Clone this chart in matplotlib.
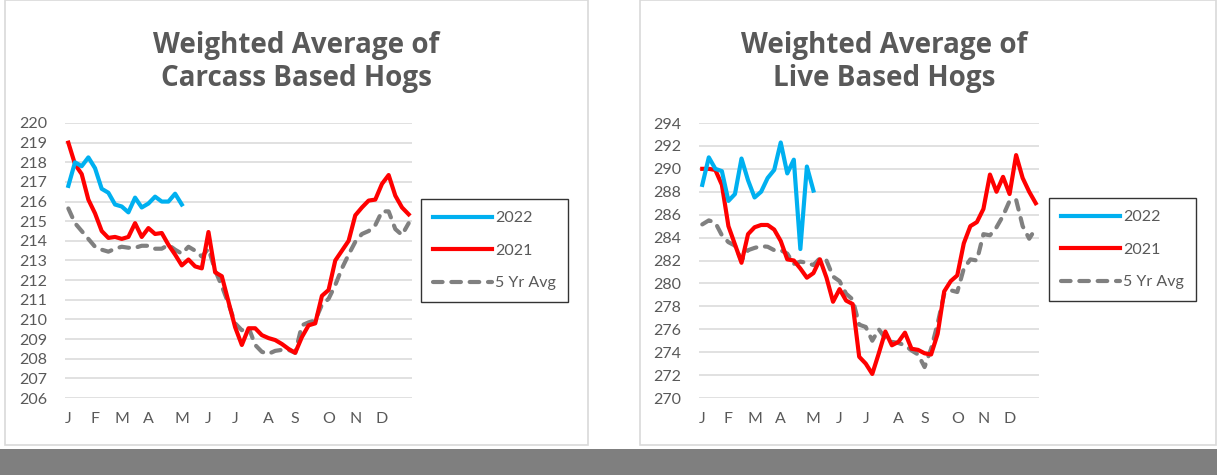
#!/usr/bin/env python3
# -*- coding: utf-8 -*-
"""
Weighted average hog prices: carcass vs live, 2022 / 2021 / 5 yr avg (weekly)
"""

import matplotlib
matplotlib.use('Agg')
import matplotlib.pyplot as plt
from matplotlib.patches import Rectangle
import numpy as np

matplotlib.rcParams['font.family'] = ['Lato', 'DejaVu Sans']

# ---- data (weekly, 52 weeks) ----
month_ticks = [0, 4, 8, 12, 17, 21, 25, 30, 34, 39, 43, 47]
month_labels = ['J', 'F', 'M', 'A', 'M', 'J', 'J', 'A', 'S', 'O', 'N', 'D']

carcass_2022 = [216.8, 218.0, 217.8, 218.25, 217.7, 216.65, 216.45, 215.85, 215.75, 215.45,
                216.2, 215.7, 215.9, 216.25, 216.0, 216.0, 216.4, 215.85]
carcass_2021 = [219.0, 217.9, 217.4, 216.1, 215.4, 214.5, 214.15, 214.2, 214.1, 214.2,
                214.9, 214.2, 214.65, 214.35, 214.4, 213.8, 213.3, 212.75, 213.05, 212.7,
                212.6, 214.45, 212.4, 212.2, 210.9, 209.6, 208.7, 209.55, 209.55, 209.2,
                209.05, 208.95, 208.75, 208.5, 208.3, 209.1, 209.7, 209.8, 211.2, 211.5,
                213.0, 213.5, 214.0, 215.3, 215.7, 216.05, 216.1, 216.9, 217.35, 216.3,
                215.7, 215.35]
carcass_5yr = [215.65, 214.9, 214.5, 214.1, 213.7, 213.55, 213.45, 213.6, 213.7, 213.65,
               213.65, 213.75, 213.75, 213.6, 213.6, 213.8, 213.55, 213.35, 213.7, 213.5,
               213.2, 213.6, 212.5, 211.7, 210.8, 209.8, 209.45, 209.6, 208.7, 208.35,
               208.25, 208.4, 208.45, 208.45, 208.3, 209.7, 209.85, 209.95, 210.75, 211.05,
               211.75, 212.6, 213.3, 213.95, 214.35, 214.5, 214.8, 215.5, 215.5, 214.6,
               214.3, 214.9]

live_2022 = [288.6, 291.0, 290.0, 289.8, 287.2, 287.8, 290.9, 289.0, 287.5, 288.0,
             289.2, 289.9, 292.3, 289.6, 290.8, 283.0, 290.2, 288.1]
live_2021 = [290.0, 290.0, 289.9, 288.6, 285.0, 283.4, 281.8, 284.3, 284.9, 285.1,
             285.1, 284.7, 283.7, 282.1, 282.0, 281.3, 280.5, 280.9, 282.1, 280.5,
             278.4, 279.5, 278.5, 278.2, 273.6, 273.0, 272.1, 273.9, 275.8, 274.6,
             274.9, 275.7, 274.3, 274.2, 273.9, 273.8, 275.6, 279.3, 280.2, 280.7,
             283.5, 285.0, 285.35, 286.5, 289.5, 288.0, 289.3, 287.8, 291.2, 289.2,
             288.0, 287.0]
live_5yr = [285.15, 285.5, 285.3, 284.2, 283.6, 283.3, 282.0, 282.9, 283.1, 283.25,
            283.2, 282.9, 282.9, 282.6, 281.7, 281.9, 281.8, 281.6, 282.2, 282.0,
            280.6, 280.2, 279.1, 278.6, 276.4, 276.2, 275.0, 276.0, 275.2, 274.9,
            274.8, 274.6, 274.15, 273.8, 272.7, 274.3, 276.5, 279.1, 279.4, 279.25,
            281.3, 282.1, 282.0, 284.3, 284.2, 284.9, 285.9, 287.2, 287.3, 285.0,
            283.9, 284.8]

BLUE = '#00B0F0'
RED = '#FF0000'
GRAY = '#808080'
TXT = '#595959'
GRID = '#D9D9D9'

W, H = 1217, 475


def draw_panel(fig, rect, s2022, s2021, s5yr, ylim, ystep, legend_xy):
    ax = fig.add_axes(rect)
    x22 = np.arange(len(s2022))
    x21 = np.arange(len(s2021))
    x5 = np.arange(len(s5yr))
    ax.plot(x22, s2022, color=BLUE, lw=3.0, solid_joinstyle='round', label='2022', zorder=4)
    ax.plot(x21, s2021, color=RED, lw=3.0, solid_joinstyle='round', label='2021', zorder=3)
    ax.plot(x5, s5yr, color=GRAY, lw=3.0, dashes=(2.3, 2.1), dash_capstyle='round',
            label='5 Yr Avg', zorder=2)

    ax.set_xlim(-0.5, 51.5)
    ax.set_ylim(*ylim)
    ax.set_yticks(np.arange(ylim[0], ylim[1] + ystep / 2, ystep))
    ax.set_xticks(month_ticks)
    ax.set_xticklabels(month_labels)
    ax.grid(axis='y', color=GRID, lw=1.1)
    ax.set_axisbelow(True)
    for sp in ax.spines.values():
        sp.set_visible(False)
    ax.tick_params(length=0, colors=TXT, labelsize=11.5)
    ax.tick_params(axis='y', pad=13)
    ax.tick_params(axis='x', pad=10)

    leg = fig.legend(handles=ax.get_lines(), loc='upper left',
                     bbox_to_anchor=legend_xy, frameon=True, fancybox=False,
                     edgecolor='black', fontsize=11.5, handlelength=3.7,
                     handletextpad=0.2, labelspacing=1.15, borderpad=0.75,
                     borderaxespad=0)
    leg.get_frame().set_linewidth(1.0)
    for t in leg.get_texts():
        t.set_color(TXT)
    return ax


def main():
    fig = plt.figure(figsize=(W / 100, H / 100), dpi=100)

    # panel borders and bottom band
    fig.patches.append(Rectangle((5 / W, 1 - 445 / H), 583 / W, 445 / H, transform=fig.transFigure,
                                 fill=False, edgecolor=GRID, lw=1.2))
    fig.patches.append(Rectangle((640 / W, 1 - 445 / H), 576 / W, 445 / H, transform=fig.transFigure,
                                 fill=False, edgecolor=GRID, lw=1.2))
    fig.patches.append(Rectangle((0, 0), 1, 26 / H, transform=fig.transFigure,
                                 facecolor='#7F7F7F', edgecolor='none'))

    bottom = 1 - 398 / H
    height = (398 - 123) / H
    draw_panel(fig, [65 / W, bottom, 347 / W, height],
               carcass_2022, carcass_2021, carcass_5yr, (206, 220), 1,
               (421 / W, 1 - 199 / H))
    draw_panel(fig, [699 / W, bottom, 340 / W, height],
               live_2022, live_2021, live_5yr, (270, 294), 2,
               (1049 / W, 1 - 198 / H))

    title_kw = dict(ha='center', va='center', fontsize=20, fontweight='bold',
                    color=TXT, linespacing=1.15, family=['Open Sans', 'DejaVu Sans'])
    fig.text(296.5 / W, 1 - 62 / H, 'Weighted Average of\nCarcass Based Hogs', **title_kw)
    fig.text(884 / W, 1 - 62 / H, 'Weighted Average of\nLive Based Hogs', **title_kw)

    plt.savefig('out.png', dpi=100)


if __name__ == '__main__':
    main()
